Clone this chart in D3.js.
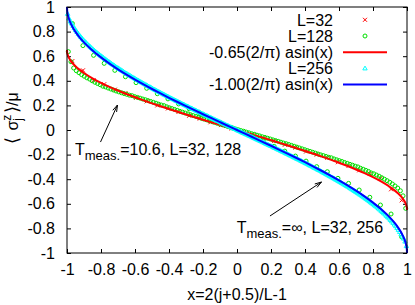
<!DOCTYPE html>
<html><head><meta charset="utf-8">
<script src="https://cdn.jsdelivr.net/npm/d3@7"></script>
<style>
body{margin:0;background:#fff}
svg{display:block;font-family:"Liberation Sans",Arial,Helvetica,sans-serif}
</style></head><body><svg id="c" width="415" height="305"></svg>
<script>
// ---------- data ----------
const xTicks = [-1,-0.8,-0.6,-0.4,-0.2,0,0.2,0.4,0.6,0.8,1];
const xTickLabels = ["-1","-0.8","-0.6","-0.4","-0.2","0","0.2","0.4","0.6","0.8","1"];
const yTicks = [-1,-0.8,-0.6,-0.4,-0.2,0,0.2,0.4,0.6,0.8,1];
const yTickLabels = ["-1","-0.8","-0.6","-0.4","-0.2","0","0.2","0.4","0.6","0.8","1"];
const legendLabels = ["L=32","L=128","-0.65(2/\u03c0) asin(x)","L=256","-1.00(2/\u03c0) asin(x)"];

// L=32, T=10.6 (red crosses), sites j=0..31
const L32_T106 = [0.560,0.485,0.405,0.372,0.328,0.300,0.262,0.233,0.200,0.175,0.147,0.116,0.093,0.063,0.040,0.012,
 -0.014,-0.037,-0.066,-0.090,-0.120,-0.143,-0.175,-0.200,-0.226,-0.262,-0.292,-0.328,-0.356,-0.392,-0.482,-0.572];

// L=128, T=10.6 (green circles)
const L128_T106 = [0.637,0.555,0.504,0.482,0.466,0.450,0.437,0.424,0.414,0.400,
 0.388,0.378,0.368,0.356,0.350,0.341,0.333,0.325,0.317,0.310,
 0.303,0.296,0.290,0.283,0.279,0.271,0.265,0.259,0.252,0.246,
 0.239,0.232,0.225,0.218,0.210,0.203,0.198,0.189,0.181,0.174,
 0.167,0.160,0.152,0.145,0.138,0.131,0.124,0.117,0.110,0.103,
 0.096,0.089,0.083,0.075,0.069,0.062,0.055,0.048,0.042,0.035,
 0.028,0.021,0.015,0.008,
 0.002,-0.005,-0.010,-0.017,-0.023,-0.030,-0.035,-0.042,-0.048,-0.055,
 -0.060,-0.067,-0.073,-0.080,-0.086,-0.092,-0.099,-0.106,-0.111,-0.118,
 -0.125,-0.132,-0.139,-0.146,-0.153,-0.160,-0.167,-0.174,-0.181,-0.188,
 -0.195,-0.202,-0.208,-0.215,-0.222,-0.226,-0.235,-0.242,-0.249,-0.256,
 -0.264,-0.271,-0.279,-0.286,-0.294,-0.300,-0.311,-0.319,-0.328,-0.337,
 -0.349,-0.356,-0.366,-0.376,-0.388,-0.400,-0.412,-0.425,-0.439,-0.455,
 -0.472,-0.494,-0.535,-0.637];

// L=32, T=infinity (green circles, no legend entry)
const L32_Tinf = [0.866,0.686,0.607,0.542,0.485,0.433,0.385,0.339,0.295,0.253,0.212,0.172,0.133,0.095,0.057,0.019,
 -0.019,-0.057,-0.095,-0.133,-0.172,-0.212,-0.253,-0.298,-0.339,-0.393,-0.434,-0.488,-0.547,-0.610,-0.683,-0.870];

// L=256, T=infinity (cyan triangles)
const L256_Tinf = [0.944,0.907,0.883,0.866,0.847,0.829,0.812,0.797,
 0.782,0.769,0.755,0.743,0.731,0.719,0.709,0.698,0.687,0.677,
 0.667,0.657,0.647,0.638,0.629,0.620,0.612,0.603,0.595,0.587,
 0.578,0.570,0.562,0.555,0.547,0.539,0.532,0.525,0.517,0.510,
 0.503,0.496,0.489,0.482,0.475,0.468,0.461,0.455,0.448,0.442,
 0.435,0.429,0.422,0.416,0.410,0.404,0.397,0.391,0.385,0.379,
 0.373,0.367,0.361,0.355,0.349,0.343,0.337,0.331,0.325,0.320,
 0.314,0.308,0.303,0.297,0.291,0.286,0.280,0.274,0.269,0.263,
 0.258,0.252,0.247,0.241,0.236,0.231,0.225,0.220,0.214,0.209,
 0.204,0.198,0.193,0.188,0.182,0.177,0.172,0.167,0.161,0.156,
 0.151,0.146,0.141,0.135,0.130,0.125,0.120,0.115,0.110,0.104,
 0.099,0.094,0.089,0.084,0.079,0.074,0.069,0.064,0.058,0.053,
 0.048,0.043,0.038,0.033,0.028,0.023,0.018,0.013,0.008,0.003,
 -0.003,-0.008,-0.013,-0.018,-0.023,-0.028,-0.033,-0.038,-0.043,-0.048,
 -0.053,-0.058,-0.064,-0.069,-0.074,-0.079,-0.084,-0.089,-0.094,-0.099,
 -0.104,-0.110,-0.115,-0.120,-0.125,-0.130,-0.135,-0.141,-0.146,-0.151,
 -0.156,-0.161,-0.167,-0.172,-0.177,-0.182,-0.188,-0.193,-0.198,-0.204,
 -0.209,-0.214,-0.220,-0.225,-0.231,-0.236,-0.241,-0.247,-0.252,-0.258,
 -0.263,-0.269,-0.274,-0.280,-0.286,-0.291,-0.297,-0.303,-0.308,-0.314,
 -0.320,-0.325,-0.331,-0.337,-0.343,-0.349,-0.355,-0.361,-0.367,-0.373,
 -0.379,-0.385,-0.391,-0.397,-0.404,-0.410,-0.416,-0.422,-0.429,-0.435,
 -0.442,-0.448,-0.455,-0.461,-0.468,-0.475,-0.482,-0.489,-0.496,-0.503,
 -0.510,-0.517,-0.525,-0.532,-0.539,-0.547,-0.555,-0.562,-0.570,-0.578,
 -0.587,-0.595,-0.603,-0.612,-0.620,-0.629,-0.638,-0.647,-0.657,-0.667,
 -0.677,-0.687,-0.698,-0.709,-0.719,-0.731,-0.743,-0.755,-0.769,-0.782,
 -0.797,-0.812,-0.829,-0.847,-0.866,-0.883,-0.907,-0.944];

// reference curves, sampled
const lineX = [-1,-0.999,-0.995,-0.99,-0.98,-0.97,-0.95,-0.925,-0.9,-0.85,-0.8,-0.75,-0.7,-0.65,-0.6,-0.55,-0.5,-0.45,-0.4,-0.35,-0.3,-0.25,-0.2,-0.15,-0.1,-0.05,
 0,0.05,0.1,0.15,0.2,0.25,0.3,0.35,0.4,0.45,0.5,0.55,0.6,0.65,0.7,0.75,0.8,0.85,0.9,0.925,0.95,0.97,0.98,0.99,0.995,0.999,1];
const redLine = [0.65,0.6315,0.6086,0.5914,0.5671,0.5484,0.5186,0.4887,0.4634,0.4204,0.3837,0.3509,0.3209,0.2928,0.2663,0.2410,0.2167,0.1931,0.1703,0.1480,0.1261,0.1046,0.0833,0.0623,0.0415,0.0207,
 0,-0.0207,-0.0415,-0.0623,-0.0833,-0.1046,-0.1261,-0.1480,-0.1703,-0.1931,-0.2167,-0.2410,-0.2663,-0.2928,-0.3209,-0.3509,-0.3837,-0.4204,-0.4634,-0.4887,-0.5186,-0.5484,-0.5671,-0.5914,-0.6086,-0.6315,-0.65];
const blueLine = [1,0.9715,0.9362,0.9099,0.8725,0.8437,0.7979,0.7519,0.7129,0.6468,0.5903,0.5399,0.4936,0.4505,0.4097,0.3707,0.3333,0.2972,0.2620,0.2276,0.1940,0.1609,0.1282,0.0959,0.0638,0.0318,
 0,-0.0318,-0.0638,-0.0959,-0.1282,-0.1609,-0.1940,-0.2276,-0.2620,-0.2972,-0.3333,-0.3707,-0.4097,-0.4505,-0.4936,-0.5399,-0.5903,-0.6468,-0.7129,-0.7519,-0.7979,-0.8437,-0.8725,-0.9099,-0.9362,-0.9715,-1];

// ---------- drawing ----------
const RED="#ff0000", GREEN="#00e000", CYAN="#00ffff", BLUE="#0000ff";
const svg = d3.select("#c");
const x = d3.scaleLinear().domain([-1,1]).range([67,407]);
const y = d3.scaleLinear().domain([-1,1]).range([253,7]);
const siteX = (j,n) => 2*(j+0.5)/n - 1;

function styleAxis(g){
  g.attr("font-family",null).attr("font-size",16);
  g.select(".domain").remove();
  g.selectAll(".tick line").attr("stroke","#000");
  g.selectAll(".tick text").attr("fill","#000");
}
svg.append("g").attr("transform","translate(0,253)")
  .call(d3.axisBottom(x).tickValues(xTicks).tickFormat((d,i)=>xTickLabels[i]).tickSize(-4).tickPadding(11)).call(styleAxis);
svg.append("g").attr("transform","translate(0,7)")
  .call(d3.axisTop(x).tickValues(xTicks).tickFormat("").tickSize(-4)).call(styleAxis);
svg.append("g").attr("transform","translate(67,0)")
  .call(d3.axisLeft(y).tickValues(yTicks).tickFormat((d,i)=>yTickLabels[i]).tickSize(-4).tickPadding(12)).call(styleAxis);
svg.append("g").attr("transform","translate(407,0)")
  .call(d3.axisRight(y).tickValues(yTicks).tickFormat("").tickSize(-4)).call(styleAxis);

// markers
function crosses(g, pts, c){
  g.selectAll(null).data(pts).join("path")
   .attr("d", d=>`M${d[0]-2},${d[1]-2}L${d[0]+2},${d[1]+2}M${d[0]-2},${d[1]+2}L${d[0]+2},${d[1]-2}`)
   .attr("stroke",c).attr("stroke-width",1).attr("fill","none");
}
function circles(g, pts, c){
  g.selectAll(null).data(pts).join("circle")
   .attr("cx",d=>d[0]).attr("cy",d=>d[1]).attr("r",2)
   .attr("stroke",c).attr("stroke-width",1).attr("fill","none");
}
function triangles(g, pts, c){
  g.selectAll(null).data(pts).join("path")
   .attr("d", d=>`M${d[0]},${d[1]-2.3}L${d[0]+2.2},${d[1]+1.5}L${d[0]-2.2},${d[1]+1.5}Z`)
   .attr("stroke",c).attr("stroke-width",1).attr("fill","none");
}
const pts = arr => arr.map((v,j)=>[x(siteX(j,arr.length)), y(v)]);
const line = d3.line().x((d,i)=>x(lineX[i])).y(d=>y(d)).curve(d3.curveMonotoneX);

const plot = svg.append("g");
crosses(plot.append("g"), pts(L32_T106), RED);
circles(plot.append("g"), pts(L128_T106), GREEN);
plot.append("path").datum(redLine).attr("d",line).attr("fill","none").attr("stroke",RED).attr("stroke-width",2);
circles(plot.append("g"), pts(L32_Tinf), GREEN);
triangles(plot.append("g"), pts(L256_Tinf), CYAN);
plot.append("path").datum(blueLine).attr("d",line).attr("fill","none").attr("stroke",BLUE).attr("stroke-width",2);

// frame
svg.append("rect").attr("x",67).attr("y",7).attr("width",340).attr("height",246)
  .attr("fill","none").attr("stroke","#000").attr("stroke-width",1);

// legend
const leg = svg.append("g").attr("font-size",16);
const rowY = i => 19.8 + 16.2*i;
legendLabels.forEach((t,i)=>{
  leg.append("text").attr("x",333).attr("y",rowY(i)+5.7).attr("text-anchor","end").text(t);
});
crosses(leg.append("g"), [[365,rowY(0)]], RED);
circles(leg.append("g"), [[365,rowY(1)]], GREEN);
leg.append("line").attr("x1",343).attr("x2",387).attr("y1",rowY(2)).attr("y2",rowY(2)).attr("stroke",RED).attr("stroke-width",2);
triangles(leg.append("g"), [[365,rowY(3)]], CYAN);
leg.append("line").attr("x1",343).attr("x2",387).attr("y1",rowY(4)).attr("y2",rowY(4)).attr("stroke",BLUE).attr("stroke-width",2);

// annotations (data coordinates)
function arrow(x0,y0,x1,y1){
  const X0=x(x0),Y0=y(y0),X1=x(x1),Y1=y(y1);
  const a=Math.atan2(Y1-Y0,X1-X0), L=7, w=0.3;
  svg.append("path")
    .attr("d",`M${X0},${Y0}L${X1},${Y1}M${X1-L*Math.cos(a-w)},${Y1-L*Math.sin(a-w)}L${X1},${Y1}L${X1-L*Math.cos(a+w)},${Y1-L*Math.sin(a+w)}`)
    .attr("stroke","#000").attr("stroke-width",1).attr("fill","none");
}
function label(xv,yv,main){
  const t = svg.append("text").attr("x",x(xv)).attr("y",y(yv)).attr("font-size",16);
  t.append("tspan").text("T");
  t.append("tspan").attr("font-size",13).attr("dy",5).text("meas.");
  t.append("tspan").attr("dy",-5).text(main);
}
arrow(-0.803,-0.098,-0.703,0.203);
label(-0.953,-0.203,"=10.6, L=32, 128");
arrow(0.194,-0.699,0.497,-0.423);
label(-0.002,-0.837,"=\u221e, L=32, 256");

// axis titles
svg.append("text").attr("x",237).attr("y",300).attr("text-anchor","middle").attr("font-size",16).text("x=2(j+0.5)/L-1");
const yl = svg.append("text").attr("transform","translate(18,118) rotate(-90)").attr("text-anchor","middle").attr("font-size",16);
yl.append("tspan").attr("font-size",18).text("\u27e8");
yl.append("tspan").attr("dx",6).text("\u03c3");
yl.append("tspan").attr("font-size",12).attr("dy",-7).text("z");
yl.append("tspan").attr("font-size",12).attr("dx",-6).attr("dy",11).text("j");
yl.append("tspan").attr("font-size",18).attr("dx",5).attr("dy",-4).text("\u27e9");
yl.append("tspan").text("/\u03bc");
</script></body></html>
